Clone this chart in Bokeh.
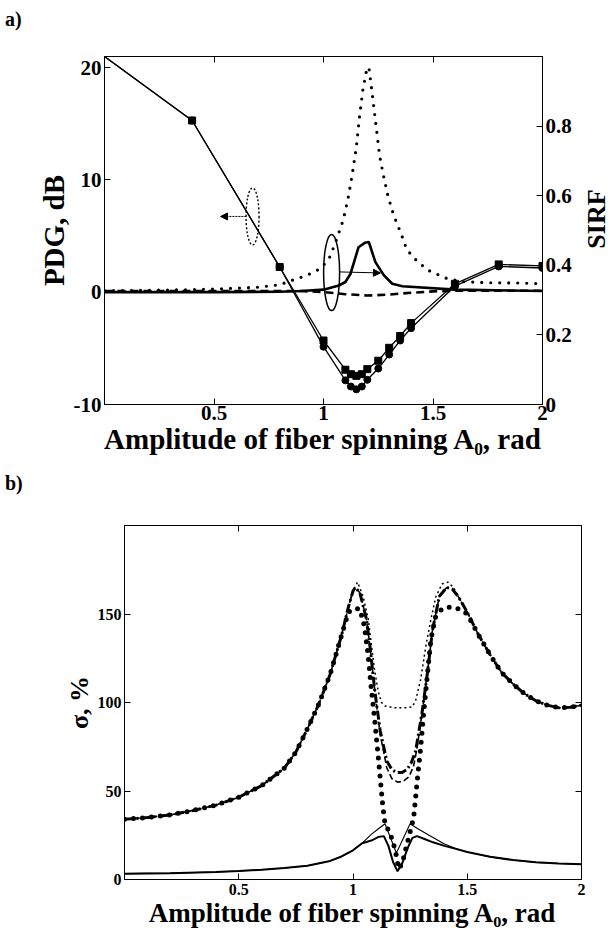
import math
from bokeh.plotting import figure
from bokeh.models import (Range1d, LinearAxis, FixedTicker, CustomJSTickFormatter,
                          Arrow, NormalHead, Div)
from bokeh.embed import file_html
from bokeh.resources import INLINE

FONT = "Liberation Serif"

# ---------------- panel a) data ----------------
A_pdg = [0.0, 0.4, 0.8, 1.0, 1.1, 1.125, 1.15, 1.175, 1.2, 1.25, 1.3, 1.35, 1.4, 1.6, 1.8, 2.0]
pdg_sq = [21.0, 15.3, 2.25, -4.3, -6.9, -7.3, -7.45, -7.3, -6.85, -6.1, -4.95, -3.9, -2.75, 0.75, 2.48, 2.34]
pdg_ci = [21.0, 15.3, 2.25, -4.85, -7.85, -8.4, -8.65, -8.4, -7.8, -6.8, -5.55, -4.3, -3.2, 0.55, 2.3, 2.16]

A_sirf_dot = [0.0, 0.2, 0.4, 0.6, 0.7, 0.8, 0.87, 0.92, 0.97, 1.0, 1.03, 1.06, 1.09, 1.113, 1.131,
              1.15, 1.165, 1.18, 1.195, 1.207, 1.225, 1.242, 1.256, 1.273, 1.294, 1.321, 1.355,
              1.38, 1.43, 1.48, 1.56, 1.63, 1.75, 1.9, 2.0]
sirf_dot = [0.327, 0.328, 0.330, 0.334, 0.337, 0.344, 0.36, 0.37, 0.385, 0.40, 0.425, 0.475, 0.53,
            0.595, 0.66, 0.74, 0.83, 0.905, 0.955, 0.97, 0.88, 0.79, 0.716, 0.66, 0.60, 0.543,
            0.49, 0.445, 0.41, 0.385, 0.363, 0.353, 0.350, 0.349, 0.347]

A_sirf_sol = [0.0, 0.5, 0.8, 0.9, 1.0, 1.07, 1.10, 1.123, 1.16, 1.19, 1.207, 1.237, 1.276, 1.314,
              1.36, 1.6, 2.0]
sirf_sol = [0.323, 0.323, 0.324, 0.326, 0.330, 0.342, 0.352, 0.375, 0.452, 0.465, 0.467, 0.409,
            0.371, 0.347, 0.34, 0.33, 0.326]

A_sirf_dash = [0.0, 0.9, 1.0, 1.1, 1.2, 1.3, 1.4, 1.5, 1.6, 2.0]
sirf_dash = [0.326, 0.326, 0.323, 0.317, 0.313, 0.316, 0.321, 0.325, 0.327, 0.327]

# ---------------- panel b) data ----------------
A_dotthin = [0.0, 0.1, 0.2, 0.3, 0.4, 0.5, 0.6, 0.7, 0.75, 0.8, 0.85, 0.9, 0.95, 0.98,
             1.0, 1.02, 1.044, 1.067, 1.081, 1.096, 1.111, 1.125, 1.14, 1.185, 1.23, 1.259,
             1.274, 1.296, 1.319, 1.341, 1.363, 1.39, 1.415, 1.44,
             1.46, 1.5, 1.55, 1.6, 1.65, 1.7, 1.75, 1.8, 1.85, 1.9, 1.95, 2.0]
s_dotthin = [34, 35, 36.5, 39, 42, 46.5, 53, 63, 72, 85, 99, 116, 138, 154,
             163, 168, 160, 147, 132, 117, 106, 100, 98, 97, 97, 97.5,
             101, 113, 132, 147, 160, 167, 168, 165,
             160, 151, 138, 127, 117, 110.5, 105, 101, 98.5, 97, 97.3, 98.5]

A_dashdot = [0.0, 0.1, 0.2, 0.3, 0.4, 0.5, 0.6, 0.7, 0.75, 0.8, 0.85, 0.9, 0.95, 0.98,
             1.0, 1.01, 1.03, 1.059, 1.074, 1.096, 1.119, 1.148, 1.17, 1.192, 1.215, 1.237,
             1.255, 1.274, 1.303, 1.326, 1.348, 1.378, 1.41, 1.435,
             1.46, 1.5, 1.55, 1.6, 1.65, 1.7, 1.75, 1.8, 1.85, 1.9, 1.95, 2.0]
s_dashdot = [34, 35, 36.5, 39, 42, 46.5, 53, 63, 72, 85, 99, 116, 138, 154,
             163, 165, 162, 147, 132, 106, 84, 67, 62, 60.4, 60.5, 62.2,
             66, 72.5, 95, 117, 141, 160, 165, 164,
             160, 151, 138, 127, 117, 110.5, 105, 101, 98.5, 97, 97.3, 98.5]

A_dashed = [0.0, 0.1, 0.2, 0.3, 0.4, 0.5, 0.6, 0.7, 0.75, 0.8, 0.85, 0.9, 0.95, 0.98,
            1.0, 1.01, 1.03, 1.059, 1.074, 1.096, 1.119, 1.148, 1.17, 1.195, 1.22, 1.245,
            1.265, 1.28, 1.303, 1.326, 1.348, 1.378, 1.41, 1.435,
            1.46, 1.5, 1.55, 1.6, 1.65, 1.7, 1.75, 1.8, 1.85, 1.9, 1.95, 2.0]
s_dashed = [34, 35, 36.5, 39, 42, 46.5, 53, 63, 72, 85, 99, 116, 138, 154,
            163, 165, 162, 147, 132, 106, 82, 63, 57, 55, 55.5, 58,
            64, 74, 95, 117, 141, 160, 165, 164,
            160, 151, 138, 127, 117, 110.5, 105, 101, 98.5, 97, 97.3, 98.5]

A_bigdot = [0.0, 0.1, 0.2, 0.3, 0.4, 0.5, 0.6, 0.7, 0.75, 0.8, 0.85, 0.9, 0.95, 0.98,
            1.0, 1.03, 1.05, 1.065, 1.08, 1.095, 1.11, 1.12, 1.13, 1.14, 1.163, 1.185, 1.2,
            1.215, 1.237, 1.259, 1.267, 1.281, 1.296, 1.31, 1.325, 1.34, 1.36, 1.39, 1.43,
            1.46, 1.5, 1.55, 1.6, 1.65, 1.7, 1.75, 1.8, 1.85, 1.9, 1.95, 2.0]
s_bigdot = [34, 35, 36.5, 39, 42, 46.5, 53, 63, 72, 85, 99, 116, 138, 151,
            153, 153, 143, 128, 108, 90, 70, 56, 42, 31.5, 26, 16.7, 6,
            9, 20.4, 31.5, 37, 55.7, 74.3, 95, 115, 135, 148, 153, 154,
            153, 150, 138, 127, 117, 110.5, 105, 101, 98.5, 97, 97.3, 98.5]

A_solthin = [0.0, 0.2, 0.4, 0.5, 0.6, 0.7, 0.8, 0.9, 0.95, 1.0, 1.04,
             1.08, 1.11, 1.14, 1.19, 1.25, 1.28, 1.333, 1.4, 1.45,
             1.5, 1.6, 1.7, 1.8, 1.9, 2.0]
s_solthin = [3.3, 3.6, 4.2, 4.8, 5.5, 6.5, 7.8, 10.5, 13, 16.5, 20.5,
             25.5, 28.5, 31.5, 15, 31.5, 29, 25, 20, 17.5,
             15.5, 12.8, 11, 9.7, 9, 8.6]

A_solthick = [0.0, 0.2, 0.4, 0.5, 0.6, 0.7, 0.8, 0.9, 0.95, 1.0, 1.04,
              1.08, 1.11, 1.135, 1.155, 1.175, 1.195, 1.215, 1.24, 1.26, 1.28, 1.31, 1.35,
              1.4, 1.45, 1.5, 1.6, 1.7, 1.8, 1.9, 2.0]
s_solthick = [3.3, 3.6, 4.2, 4.8, 5.5, 6.5, 7.8, 10.5, 13, 16.5, 20.5,
              22, 24, 24.5, 19, 10, 4.6, 9, 18, 23.5, 24.5, 23, 21,
              19, 17.3, 15.5, 12.8, 11, 9.7, 9, 8.6]

x_ticks = [0.5, 1, 1.5, 2]
pdg_ticks = [-10, 0, 10, 20]
sirf_ticks = [0, 0.2, 0.4, 0.6, 0.8]
sigma_ticks = [0, 50, 100, 150]

XLABEL = "Amplitude of fiber spinning A\u2080, rad"


def style_axis(ax, ticks, size, show=True):
    ax.ticker = FixedTicker(ticks=ticks)
    if show:
        ax.formatter = CustomJSTickFormatter(code="return String(tick);")
    else:
        ax.formatter = CustomJSTickFormatter(code="return '';")
    ax.major_tick_in = 6
    ax.major_tick_out = 0
    ax.minor_tick_line_color = None
    ax.axis_line_color = "black"
    ax.major_tick_line_color = "black"
    ax.major_label_text_font = FONT
    ax.major_label_text_font_style = "bold"
    ax.major_label_text_font_size = size
    ax.major_label_text_color = "black"
    ax.major_label_standoff = 3
    ax.axis_label_text_font = FONT
    ax.axis_label_text_font_style = "bold"
    ax.axis_label_text_color = "black"
    ax.axis_label_standoff = 1


# ---------------- figure a ----------------
p1 = figure(width=594, height=430, x_range=Range1d(0, 2), y_range=Range1d(-10, 21),
            output_backend="svg", toolbar_location=None,
            min_border_left=104, min_border_right=52, min_border_top=22, min_border_bottom=60)
p1.extra_y_ranges = {"sirf": Range1d(0, 1)}
p1.grid.visible = False
p1.outline_line_color = "black"
p1.background_fill_color = "white"

style_axis(p1.xaxis[0], x_ticks, "21px")
p1.xaxis[0].axis_label = XLABEL
p1.xaxis[0].axis_label_text_font_size = "29px"
p1.xaxis[0].major_label_standoff = 1
p1.xaxis[0].axis_label_standoff = 0
style_axis(p1.yaxis[0], pdg_ticks, "21px")
p1.yaxis[0].axis_label = "PDG, dB"
p1.yaxis[0].axis_label_text_font_size = "29px"

ax_r = LinearAxis(y_range_name="sirf")
style_axis(ax_r, sirf_ticks, "21px")
p1.add_layout(ax_r, "right")
ax_t = LinearAxis()
style_axis(ax_t, x_ticks, "1px", show=False)
p1.add_layout(ax_t, "above")

# SIRF curves (right axis)
p1.line(A_sirf_dot, sirf_dot, y_range_name="sirf", line_color="black", line_width=3.2,
        line_dash="0 9", line_cap="round")
p1.line(A_sirf_sol, sirf_sol, y_range_name="sirf", line_color="black", line_width=2.6)
p1.line(A_sirf_dash, sirf_dash, y_range_name="sirf", line_color="black", line_width=2.6,
        line_dash="8 5")

# PDG curves (left axis)
p1.line(A_pdg, pdg_ci, line_color="black", line_width=1.3)
p1.line(A_pdg, pdg_sq, line_color="black", line_width=1.3)
p1.scatter(A_pdg[1:], pdg_ci[1:], marker="circle", size=7, color="black")
p1.scatter(A_pdg[1:], pdg_sq[1:], marker="square", size=7, color="black")

# annotation ellipses + arrows
p1.ellipse(x=[0.676], y=[6.75], width=13, height=57, width_units="screen", height_units="screen",
           fill_color=None, line_color="black", line_width=1.4, line_dash="2 2")
p1.add_layout(Arrow(end=NormalHead(size=7, fill_color="black", line_color="black"),
                    x_start=0.648, y_start=6.75, x_end=0.53, y_end=6.75,
                    line_color="black", line_width=1, line_dash="2 1"))
p1.ellipse(x=[1.037], y=[0.379], width=16, height=76, width_units="screen", height_units="screen",
           y_range_name="sirf", fill_color=None, line_color="black", line_width=1.5)
p1.add_layout(Arrow(end=NormalHead(size=7, fill_color="black", line_color="black"),
                    x_start=1.072, y_start=0.381, x_end=1.26, y_end=0.378, y_range_name="sirf",
                    line_color="black", line_width=1))

# ---------------- figure b ----------------
p2 = figure(width=594, height=430, x_range=Range1d(0, 2), y_range=Range1d(0, 200),
            output_backend="svg", toolbar_location=None,
            min_border_left=124, min_border_right=13, min_border_top=25, min_border_bottom=47)
p2.grid.visible = False
p2.outline_line_color = "black"

style_axis(p2.xaxis[0], x_ticks, "16px")
p2.xaxis[0].axis_label = XLABEL
p2.xaxis[0].axis_label_text_font_size = "27px"
p2.xaxis[0].major_label_standoff = 4
p2.xaxis[0].axis_label_standoff = 0
style_axis(p2.yaxis[0], sigma_ticks, "16px")
p2.yaxis[0].axis_label = "\u03c3, %"
p2.yaxis[0].axis_label_text_font_size = "26px"
p2.yaxis[0].axis_label_standoff = 1
ax2_r = LinearAxis()
style_axis(ax2_r, sigma_ticks, "1px", show=False)
ax2_r.major_label_standoff = 0
p2.add_layout(ax2_r, "right")
ax2_t = LinearAxis()
style_axis(ax2_t, x_ticks, "1px", show=False)
p2.add_layout(ax2_t, "above")

p2.line(A_solthin, s_solthin, line_color="black", line_width=1.1)
p2.line(A_solthick, s_solthick, line_color="black", line_width=2.0)
p2.line(A_bigdot, s_bigdot, line_color="black", line_width=5, line_dash="0 9", line_cap="round")
p2.line(A_dashed, s_dashed, line_color="black", line_width=1.6, line_dash="6 3")
p2.line(A_dashdot, s_dashdot, line_color="black", line_width=3, line_dash="9 3 2 3")
p2.line(A_dotthin, s_dotthin, line_color="black", line_width=1.5, line_dash="2 3")

text_style = {"font-family": FONT, "font-weight": "bold", "color": "black"}
da = Div(text="a)", width=594, height=24, styles={**text_style, "font-size": "20px"})
db = Div(text="b)", width=594, height=26, styles={**text_style, "font-size": "20px"})
# right-axis title of panel a), reading bottom-to-top like the original
sirf_lbl = Div(text="SIRF", width=64, height=28,
               styles={**text_style, "font-size": "26px", "line-height": "28px",
                       "text-align": "center", "position": "absolute",
                       "left": "560px", "top": "200px", "transform": "rotate(-90deg)"})

# separate roots so that the two plot frames are not aligned with each other
open("out.html", "w").write(file_html([da, p1, db, p2, sirf_lbl], INLINE))
